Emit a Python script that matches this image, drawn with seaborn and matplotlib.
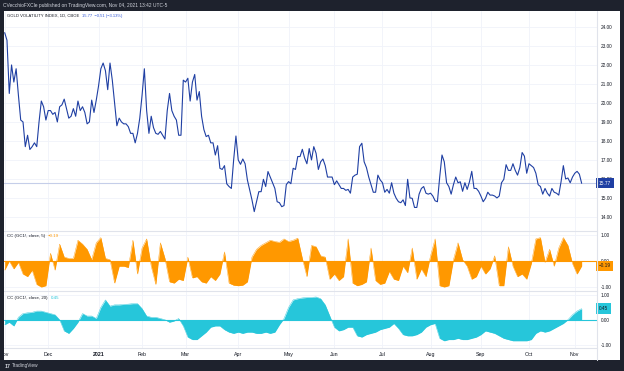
import numpy as np
import pandas as pd
import matplotlib
matplotlib.use("Agg")
import matplotlib.pyplot as plt
import matplotlib.transforms as mtransforms
from matplotlib.lines import Line2D
from matplotlib.patches import Rectangle
from matplotlib.ticker import FormatStrFormatter
import seaborn as sns
from pandas.tseries.holiday import USFederalHolidayCalendar
from pandas.tseries.offsets import CustomBusinessDay

# GVZ daily close, one value per trading day from 2020-11-02
gvz_close = [
    23.7, 23.3, 20.5, 22.0, 21.1, 21.8, 20.4, 19.1, 19.0, 17.7,
    18.3, 17.55, 17.7, 17.9, 17.7, 19.0, 20.1, 19.8, 19.1, 19.6,
    19.6, 19.4, 19.5, 19.0, 19.8, 19.9, 20.2, 19.7, 19.2, 19.3,
    19.7, 19.3, 20.1, 19.6, 19.8, 19.5, 18.9, 19.0, 20.15, 19.5,
    20.15, 20.9, 21.8, 22.1, 21.7, 20.7, 22.1, 21.2, 20.0, 18.8,
    19.2, 19.0, 18.9, 18.9, 18.75, 18.4, 18.4, 17.9, 18.4, 19.2,
    20.4, 21.8, 19.6, 18.4, 19.3, 18.7, 18.4, 18.35, 18.5, 18.3,
    18.1, 19.6, 20.5, 19.6, 19.3, 19.1, 18.3, 18.3, 21.2, 21.1,
    21.3, 20.1, 21.1, 21.5, 20.15, 20.6, 19.3,
    18.6, 18.23, 18.3, 17.9, 17.9, 17.26, 17.75, 16.56, 16.5, 16.7,
    15.74, 15.6, 15.5, 17.0, 18.26, 17.0, 16.77, 17.05, 16.8, 15.95,
    15.42, 14.9, 14.28, 14.8, 15.33, 15.33, 15.98, 15.6, 16.39, 16.1,
    15.8, 15.5, 14.8, 14.75, 14.54, 14.6, 15.7, 15.86, 15.75, 16.56,
    16.5, 17.18, 17.18, 17.56, 17.1, 16.8, 17.6, 17.0, 17.7, 17.35,
    16.5, 16.9, 17.05, 16.7, 16.1, 16.1, 16.1, 15.7, 15.9, 15.7,
    15.5, 15.5, 15.4, 15.45, 15.25, 16.1, 16.2, 16.25, 17.7, 17.88,
    16.9, 16.6, 16.1, 15.7, 15.3, 15.3, 16.2, 15.95,
    15.8, 15.3, 15.45, 15.25, 15.8, 15.25, 14.98, 14.8, 14.75, 14.9,
    14.6, 15.98, 15.0, 14.98, 14.5, 14.5, 15.2, 15.5, 15.6, 15.25,
    15.2, 15.25, 15.1, 14.85, 14.8, 16.1, 17.26, 16.9, 15.8, 15.6,
    15.2, 15.7, 16.1, 15.8, 15.85, 15.35, 15.8, 15.45, 15.85, 16.4,
    15.5, 15.5, 15.35, 15.1, 14.8, 14.98, 15.3, 15.15, 15.15, 15.1,
    15.0, 15.1, 15.8, 15.98, 16.75, 16.45, 16.45, 16.8, 16.45, 16.2,
    16.6, 17.39, 17.2, 16.3, 16.8, 16.7, 16.6, 16.3, 15.7, 15.6,
    15.2, 15.5, 15.25, 15.1, 15.5, 15.3, 15.25, 15.15, 15.85, 16.7,
    16.0, 16.05, 15.8, 16.1, 16.3, 16.4, 16.25, 15.77,
]

# correlation with gold futures, read every second trading day
cc5 = [
    -0.35, 0.0, -0.3, -0.05, -0.5, -0.6, -0.35, -0.9, -1.0, -0.95,
    0.3, -0.35, 0.65, 0.15, 0.1, 0.1, 0.8, 0.65, 0.45, 0.05,
    0.7, 0.9, 0.1, 0.05, -0.85, -0.2, -0.2, -0.25, 0.8, -0.5,
    0.5, 0.85, -0.2, -0.9, 0.7, 0.1, -0.8, -0.85, -0.7, -0.75,
    0.15, -0.65, -0.6,
    -0.8, -0.85, -0.6, -0.75, -0.5, 0.35, -0.85, -0.93, -0.95, -0.93,
    -0.8, 0.15, 0.45, 0.6, 0.7, 0.8, 0.75, 0.72, 0.85, 0.75,
    0.8, 0.88, 0.1, -0.6, 0.6, 0.55, 0.2, 0.15, -0.7, -0.5,
    -0.75, -0.6, 0.85, -0.85, -0.95, -0.9, -0.8, 0.5, -0.75, -0.9,
    -0.85,
    -0.4, -0.7, -0.75, -0.2, -0.45, 0.5, -0.7, -0.3, -0.6, 0.2,
    0.85, -0.95, -1.0, -0.95, 0.05, 0.7, 0.05, -0.2, -0.7, -0.6,
    -0.2, -0.5, -0.3, 0.2, -0.95, -0.95, 0.55, -0.2, -0.6, -0.5,
    -0.7, -0.1, 0.85, 0.9, -0.05, 0.45, -0.2, 0.5, 0.9, 0.6,
    -0.1, -0.5, -0.19,
]
cc20 = [
    -0.2, -0.1, -0.25, 0.1, 0.25, 0.28, 0.3, 0.35, 0.35, 0.3,
    0.25, 0.2, 0.0, -0.45, -0.55, -0.35, -0.1, 0.25, 0.15, 0.15,
    0.05, 0.5, 0.8, 0.55, 0.6, 0.6, 0.62, 0.63, 0.65, 0.65,
    0.45, 0.15, 0.1, 0.1, 0.05, 0.0, -0.1, -0.05, 0.05, -0.25,
    -0.7, -0.8, -0.8,
    -0.65, -0.5, -0.3, -0.25, -0.25, -0.4, -0.5, -0.55, -0.5, -0.55,
    -0.5, -0.5, -0.55, -0.55, -0.5, -0.55, -0.5, -0.2, 0.05, 0.5,
    0.8, 0.85, 0.88, 0.9, 0.9, 0.92, 0.85, 0.6, 0.15, -0.3,
    -0.45, -0.4, -0.3, -0.3, -0.65, -0.7, -0.6, -0.55, -0.5, -0.4,
    -0.35,
    -0.3, -0.15, -0.35, -0.6, -0.65, -0.65, -0.6, -0.5, -0.3, -0.2,
    -0.15, -0.75, -0.85, -0.8, -0.8, -0.75, -0.8, -0.8, -0.75, -0.7,
    -0.6, -0.45, -0.5, -0.55, -0.65, -0.75, -0.8, -0.85, -0.85, -0.85,
    -0.85, -0.8, -0.55, -0.45, -0.5, -0.45, -0.35, -0.25, -0.15, 0.0,
    0.2, 0.35, 0.45,
]

month_names = ["Nov", "Dec", "2021", "Feb", "Mar", "Apr", "May",
               "Jun", "Jul", "Aug", "Sep", "Oct", "Nov"]
gvz_ticks = list(range(14, 25))
cc_ticks = [-1, 0, 1]

BLUE = "#1f3fa3"
ORANGE = "#ff9800"
CYAN = "#26c6da"
DARK = "#1e222d"
GRID = "#f0f3fa"
SEP = "#e0e3eb"
TXT = "#131722"

bday = CustomBusinessDay(calendar=USFederalHolidayCalendar())
dates = pd.date_range("2020-11-02", periods=len(gvz_close), freq=bday)
df = pd.DataFrame({"bar": np.arange(len(dates)), "date": dates, "close": gvz_close})
cc = pd.DataFrame({"bar": np.arange(len(cc5)) * 2, "cc5": cc5, "cc20": cc20})
month_start = df.groupby(df["date"].dt.to_period("M"))["bar"].min().values

sns.set_style("white")
plt.rcParams["font.family"] = ["Liberation Sans", "DejaVu Sans"]

W, H = 624, 371


def rect(x0, y0, x1, y1):
    return [x0 / W, 1 - y1 / H, (x1 - x0) / W, (y1 - y0) / H]


fig = plt.figure(figsize=(W / 100, H / 100), dpi=100, facecolor=DARK)
fig.add_artist(Rectangle((4 / W, 1 - 360 / H), 616 / W, 349 / H,
                         transform=fig.transFigure, fc="white", ec="none", zorder=-1))

ax0 = fig.add_axes(rect(4, 11, 597, 231))
ax1 = fig.add_axes(rect(4, 231, 597, 291))
ax2 = fig.add_axes(rect(4, 291, 597, 348))
xlim = (-0.3, 258.7)

for ax in (ax0, ax1, ax2):
    ax.set_facecolor("none")
    for s in ax.spines.values():
        s.set_visible(False)
    ax.set_xlim(xlim)
    ax.set_xticks(month_start)
    ax.grid(True, color=GRID, lw=0.6)
    ax.set_axisbelow(True)
    ax.yaxis.tick_right()
    ax.yaxis.set_major_formatter(FormatStrFormatter("%.2f"))
    ax.tick_params(axis="y", length=0, pad=2.5, labelsize=3.4, colors=TXT)
    ax.tick_params(axis="x", length=0, labelbottom=False)

# main panel
ax0.axhline(15.77, color="#c5cee9", lw=0.8, zorder=1)
sns.lineplot(data=df, x="bar", y="close", ax=ax0, color=BLUE, linewidth=0.8)
ax0.set_ylim(13.26, 24.84)
ax0.set_yticks(gvz_ticks)

# cc 5
ax1.fill_between(cc["bar"], cc["cc5"], 0, color=ORANGE, lw=0)
sns.lineplot(data=cc, x="bar", y="cc5", ax=ax1, color=ORANGE, linewidth=0.3)
ax1.axhline(0, color=ORANGE, lw=0.8)
ax1.set_ylim(-1.154, 1.154)
ax1.set_yticks(cc_ticks)
ax1.spines["top"].set_visible(True)
ax1.spines["top"].set_color(SEP)
ax1.spines["top"].set_linewidth(0.8)

# cc 20
ax2.fill_between(cc["bar"], cc["cc20"], 0, color=CYAN, lw=0)
sns.lineplot(data=cc, x="bar", y="cc20", ax=ax2, color=CYAN, linewidth=0.3)
ax2.axhline(0, color=CYAN, lw=0.8)
ax2.set_ylim(-1.14, 1.16)
ax2.set_yticks(cc_ticks)
for side in ("top", "bottom"):
    ax2.spines[side].set_visible(True)
    ax2.spines[side].set_color(SEP)
    ax2.spines[side].set_linewidth(0.8)
ax2.tick_params(axis="x", labelbottom=True, labelsize=3.8, colors=TXT, pad=3)
ax2.set_xticklabels(month_names)
ax2.get_xticklabels()[2].set_fontweight("bold")

for ax in (ax0, ax1, ax2):
    ax.set_xlabel("")
    ax.set_ylabel("")

# last value labels on the price scale
for ax, val, txt, fc, tc in [(ax0, 15.77, "15.77", BLUE, "white"),
                             (ax1, -0.19, "\u22120.19", ORANGE, TXT),
                             (ax2, 0.45, "0.45", CYAN, TXT)]:
    tr = mtransforms.blended_transform_factory(ax.transAxes, ax.transData)
    ax.text(1.003, val, txt, transform=tr, ha="left", va="center", fontsize=3.4,
            color=tc, clip_on=False, zorder=5,
            bbox=dict(boxstyle="square,pad=0.55", fc=fc, ec="none"))

# price scale separator
fig.add_artist(Line2D([597 / W, 597 / W], [1 - 360 / H, 1 - 11 / H],
                      transform=fig.transFigure, color=SEP, lw=0.8))
# left dark strip over the chart edge (white area only)
fig.add_artist(Rectangle((0, 1 - 360 / H), 4 / W, 349 / H, transform=fig.transFigure,
                         fc=DARK, ec="none", zorder=10))

# header, legends, footer
renderer = fig.canvas.get_renderer()


def label_pair(x, y, name, value, color, size):
    t = fig.text(x / W, 1 - y / H, name, fontsize=size, color=TXT, va="center", ha="left")
    bb = t.get_window_extent(renderer)
    fig.text((bb.x1 + 3) / W, 1 - y / H, value, fontsize=size, color=color,
             va="center", ha="left")


fig.text(3 / W, 1 - 6 / H, "CVecchioFXCle published on TradingView.com, Nov 04, 2021 13:42 UTC-5",
         fontsize=3.5, color="#d1d4dc", va="center", ha="left")
label_pair(7, 16, "GOLD VOLATILITY INDEX, 1D, CBOE", "15.77  \u22120.51 (\u22123.13%)",
           "#2f55d4", 3.0)
label_pair(7, 236, "CC (GC1!, close, 5)", "\u22120.19", ORANGE, 3.2)
label_pair(7, 298, "CC (GC1!, close, 20)", "0.45", CYAN, 3.2)
fig.text(5 / W, 1 - 366 / H, "17", fontsize=3.8, color="#d1d4dc",
         fontweight="bold", va="center", ha="left")
fig.text(12 / W, 1 - 366 / H, "TradingView", fontsize=3.4, color="#d1d4dc",
         va="center", ha="left")

fig.savefig("out.png", dpi=100, facecolor=DARK)
